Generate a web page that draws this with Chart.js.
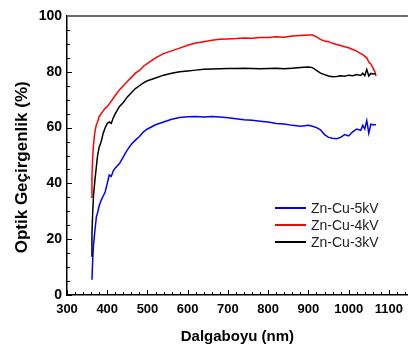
<!DOCTYPE html>
<html>
<head>
<meta charset="utf-8">
<script src="https://cdn.jsdelivr.net/npm/chart.js@4.4.1/dist/chart.umd.min.js"></script>
<style>
  html, body { margin: 0; padding: 0; background: #fff; }
  #wrap { width: 410px; height: 350px; }
</style>
</head>
<body>
<div id="wrap"><canvas id="chart" width="410" height="350"></canvas></div>
<script>
// wavelength (nm)
const wavelengths = [360, 362, 364, 366, 368, 370, 373, 376, 380, 385, 390, 395, 400, 405, 410, 415, 420, 430, 440, 450,
  460, 470, 480, 490, 500, 520, 540, 560, 580, 600, 620, 640, 660, 680, 700, 720, 740, 760, 780, 800,
  820, 840, 860, 880, 900, 910, 920, 930, 940, 950, 960, 970, 980, 990, 1000, 1010, 1020, 1030, 1035, 1040,
  1045, 1050, 1055, 1060, 1065, 1068];

// transmittance (%)
const zn5kV = [null, 5.5, 13, 18, 21, 24, 28, 29.5, 32, 34, 35.5, 37, 40, 43, 42.5, 44.5, 45.5, 47, 49.5, 52,
  54, 55.5, 56.8, 58.5, 59.5, 61, 62, 63, 63.6, 63.9, 64, 63.8, 64, 63.8, 63.5, 63.2, 62.8, 62.6, 62.3, 62,
  61.5, 61.3, 60.8, 60.5, 60.8, 60.5, 60, 59.2, 57.5, 56.5, 56.2, 56, 56.5, 57.5, 57, 58.5, 59.5, 59, 60.8, 59.5,
  62.5, 58, 61.2, 61, 61, 61];
const zn4kV = [35, 42, 50, 54, 57, 59, 61, 62, 64, 65, 66, 67, 67.5, 68.5, 69.5, 70.5, 71.5, 73.5, 75, 76.5,
  78, 79.5, 80.5, 82, 83, 85, 86.5, 87.5, 88.5, 89.5, 90.3, 90.8, 91.3, 91.7, 91.8, 91.9, 92.1, 92, 92.3, 92.3,
  92.6, 92.4, 92.8, 93, 93.2, 93.2, 92.5, 91.6, 91, 90.8, 90.2, 89.8, 89.4, 89, 88.6, 88, 87.4, 86.5, 86.2, 85.5,
  85, 83.5, 82.8, 81.5, 80, 78.5];
const zn3kV = [14, 22, 30, 36, 39, 42, 46, 50, 53, 55, 58, 60, 61.5, 62, 61.5, 63.5, 65, 67.5, 69, 71,
  72.5, 74, 75, 76, 76.8, 77.8, 78.8, 79.5, 80, 80.3, 80.6, 80.9, 81, 81.1, 81.2, 81.2, 81.3, 81.2, 81.1, 81.2,
  81.3, 81.1, 81.3, 81.5, 81.7, 81.5, 80.5, 79.5, 79, 78.5, 78.2, 78.3, 78.6, 78.4, 78.8, 78.6, 79, 78.7, 79.5, 78.6,
  80.8, 78.5, 79.4, 79.2, 79.3, 79.3];

const seriesLabels = ['Zn-Cu-5kV', 'Zn-Cu-4kV', 'Zn-Cu-3kV'];
const seriesColors = ['#0000ff', '#ff0000', '#000000'];
const xTicks = [300, 400, 500, 600, 700, 800, 900, 1000, 1100];
const yTicks = [0, 20, 40, 60, 80, 100];

function toPoints(values) {
  return wavelengths.map((w, i) => ({ x: w, y: values[i] }));
}

// inward major/minor ticks, top frame line and legend
const framePlugin = {
  id: 'frame',
  afterDraw(chart) {
    const ctx = chart.ctx;
    const area = chart.chartArea;
    const xs = chart.scales.x;
    const ys = chart.scales.y;
    ctx.save();
    ctx.strokeStyle = '#000';
    ctx.lineWidth = 1;
    for (let v = 300; v <= 1140; v += 20) {
      const px = Math.round(xs.getPixelForValue(v)) + 0.5;
      const len = v % 100 === 0 ? 5 : 3;
      ctx.beginPath();
      ctx.moveTo(px, area.bottom);
      ctx.lineTo(px, area.bottom - len);
      ctx.stroke();
    }
    for (let v = 0; v <= 100; v += 5) {
      const py = Math.round(ys.getPixelForValue(v)) + 0.5;
      const len = v % 20 === 0 ? 5 : 3;
      ctx.beginPath();
      ctx.moveTo(area.left, py);
      ctx.lineTo(area.left + len, py);
      ctx.stroke();
    }
    // top frame
    ctx.strokeStyle = '#6a6a6a';
    ctx.lineWidth = 2;
    ctx.beginPath();
    ctx.moveTo(area.left, area.top);
    ctx.lineTo(area.right, area.top);
    ctx.stroke();

    // legend
    ctx.font = '14px "Liberation Sans", Arial, sans-serif';
    ctx.textBaseline = 'middle';
    ctx.textAlign = 'left';
    const rows = [208, 225, 242];
    seriesLabels.forEach((lab, i) => {
      ctx.strokeStyle = seriesColors[i];
      ctx.lineWidth = 2;
      ctx.beginPath();
      ctx.moveTo(275, rows[i]);
      ctx.lineTo(306, rows[i]);
      ctx.stroke();
      ctx.fillStyle = '#222';
      ctx.fillText(lab, 311, rows[i] + 1);
    });
    ctx.restore();
  }
};

new Chart(document.getElementById('chart'), {
  type: 'line',
  data: {
    datasets: [
      { label: seriesLabels[2], data: toPoints(zn3kV), borderColor: seriesColors[2] },
      { label: seriesLabels[1], data: toPoints(zn4kV), borderColor: seriesColors[1] },
      { label: seriesLabels[0], data: toPoints(zn5kV), borderColor: seriesColors[0] }
    ]
  },
  options: {
    responsive: false,
    animation: false,
    layout: { padding: { top: 16, right: 0, left: 0, bottom: 0 } },
    elements: {
      line: { borderWidth: 1.5, tension: 0 },
      point: { radius: 0 }
    },
    plugins: {
      legend: { display: false },
      tooltip: { enabled: false }
    },
    scales: {
      x: {
        type: 'linear',
        min: 300,
        max: 1147,
        afterBuildTicks: (s) => { s.ticks = xTicks.map(v => ({ value: v })); },
        afterFit: (s) => { s.height = 55; },
        grid: { display: false, drawTicks: false },
        border: { display: true, color: '#000', width: 1.5 },
        ticks: {
          padding: 7,
          maxRotation: 0,
          color: '#000',
          callback: (v) => String(v),
          font: { family: '"Liberation Sans", Arial, sans-serif', size: 13, weight: 'bold' }
        },
        title: {
          display: true,
          text: 'Dalgaboyu (nm)',
          color: '#000',
          padding: { top: 0, bottom: 4 },
          font: { family: '"Liberation Sans", Arial, sans-serif', size: 15, weight: 'bold' }
        }
      },
      y: {
        min: 0,
        max: 100,
        afterBuildTicks: (s) => { s.ticks = yTicks.map(v => ({ value: v })); },
        afterFit: (s) => { s.width = 67; },
        grid: { display: false, drawTicks: false },
        border: { display: true, color: '#000', width: 1.5 },
        ticks: {
          padding: 5,
          color: '#000',
          callback: (v) => String(v),
          font: { family: '"Liberation Sans", Arial, sans-serif', size: 14, weight: 'bold' }
        },
        title: {
          display: true,
          text: 'Optik Geçirgenlik (%)     ',
          color: '#000',
          padding: { top: 12, bottom: 0 },
          font: { family: '"Liberation Sans", Arial, sans-serif', size: 17, weight: 'bold' }
        }
      }
    }
  },
  plugins: [framePlugin]
});
</script>
</body>
</html>
